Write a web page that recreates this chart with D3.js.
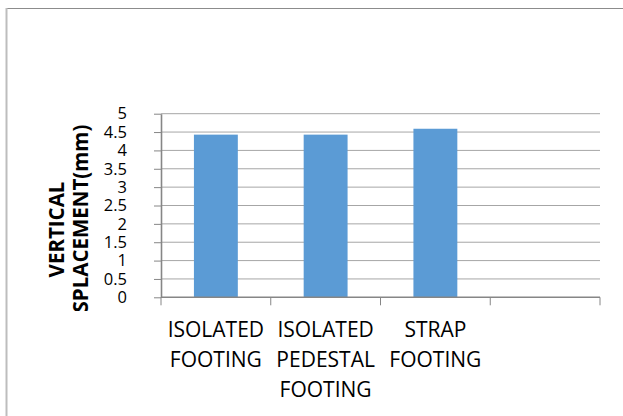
<!DOCTYPE html>
<html>
<head>
<meta charset="utf-8">
<script src="https://cdn.jsdelivr.net/npm/d3@7"></script>
<style>
  body { margin: 0; background: #ffffff; }
  svg { display: block; }
</style>
</head>
<body>
<div id="chart"></div>
<script>
// data
var categories = ["ISOLATED FOOTING", "ISOLATED PEDESTAL FOOTING", "STRAP FOOTING", ""];
var displacement = [4.43, 4.43, 4.59, null];
var yTicks = [0, 0.5, 1, 1.5, 2, 2.5, 3, 3.5, 4, 4.5, 5];
var yTitleLines = ["VERTICAL", "DISPLACEMENT(mm)"];

drawChart("#chart");

function drawChart(sel) {
  var width = 623;
  var height = 416;

  var svg = d3.select(sel)
    .append("svg")
    .attr("width", width)
    .attr("height", height);

  // plot area
  var plot = { left: 161, right: 600, top: 113.7, bottom: 297.3 };

  // outer frame (only top and left edges visible)
  svg.append("line")
    .attr("x1", 6).attr("x2", width)
    .attr("y1", 8.5).attr("y2", 8.5)
    .attr("stroke", "#8c8c8c")
    .attr("stroke-width", 1.2);
  svg.append("line")
    .attr("x1", 6.5).attr("x2", 6.5)
    .attr("y1", 8).attr("y2", height)
    .attr("stroke", "#bdbdbd")
    .attr("stroke-width", 2);

  // scales
  var xScale = d3.scaleBand()
    .domain(categories)
    .range([plot.left, plot.right])
    .paddingInner(0.6)
    .paddingOuter(0.3);

  var yScale = d3.scaleLinear()
    .domain([0, 5])
    .range([plot.bottom, plot.top]);

  // gridlines
  svg.append("g")
    .selectAll("line")
    .data(yTicks.filter(function(d) { return d > 0; }))
    .enter()
    .append("line")
    .attr("x1", plot.left)
    .attr("x2", plot.right)
    .attr("y1", function(d) { return yScale(d); })
    .attr("y2", function(d) { return yScale(d); })
    .attr("stroke", "#a6a6a6")
    .attr("stroke-width", 1);

  // bars
  var rows = categories.map(function(c, i) { return { cat: c, value: displacement[i] }; });
  svg.append("g")
    .selectAll("rect")
    .data(rows.filter(function(d) { return d.value != null; }))
    .enter()
    .append("rect")
    .attr("x", function(d) { return xScale(d.cat); })
    .attr("y", function(d) { return yScale(d.value); })
    .attr("width", xScale.bandwidth())
    .attr("height", function(d) { return yScale(0) - yScale(d.value); })
    .attr("fill", "#5b9bd5");

  // y axis
  var yAxis = d3.axisLeft(yScale)
    .tickValues(yTicks)
    .tickFormat(d3.format("~g"))
    .tickSizeInner(7)
    .tickSizeOuter(0)
    .tickPadding(27);

  var gy = svg.append("g")
    .attr("transform", "translate(" + plot.left + ",0)")
    .call(yAxis);
  gy.select(".domain").attr("stroke", "#868686").attr("stroke-width", 1.6);
  gy.selectAll(".tick line").attr("stroke", "#868686");
  gy.selectAll(".tick text")
    .attr("fill", "#000")
    .style("font-family", "'Open Sans', sans-serif")
    .style("font-size", "16.5px");

  // x axis line + category boundary ticks
  svg.append("line")
    .attr("x1", plot.left).attr("x2", plot.right)
    .attr("y1", plot.bottom).attr("y2", plot.bottom)
    .attr("stroke", "#868686")
    .attr("stroke-width", 1.6);

  var step = xScale.step();
  var bounds = categories.map(function(c) { return xScale(c) - step * 0.3; });
  bounds.push(plot.right);
  svg.append("g")
    .selectAll("line")
    .data(bounds)
    .enter()
    .append("line")
    .attr("x1", function(d) { return d; })
    .attr("x2", function(d) { return d; })
    .attr("y1", plot.bottom)
    .attr("y2", plot.bottom + 8)
    .attr("stroke", "#868686")
    .attr("stroke-width", 1);

  // x labels, one word per line
  var labels = svg.append("g")
    .selectAll("text")
    .data(categories)
    .enter()
    .append("text")
    .attr("text-anchor", "middle")
    .attr("fill", "#000")
    .style("font-family", "'Open Sans', sans-serif")
    .style("font-size", "21px");

  labels.each(function(c) {
    var cx = xScale(c) + xScale.bandwidth() / 2;
    d3.select(this).selectAll("tspan")
      .data(c.split(" ").filter(function(w) { return w.length; }))
      .enter()
      .append("tspan")
      .attr("x", cx)
      .attr("y", function(w, i) { return 337 + i * 30; })
      .text(function(w) { return w; });
  });

  // y title, clipped at the bottom like the original
  svg.append("clipPath")
    .attr("id", "ytclip")
    .append("rect")
    .attr("x", 0).attr("y", 0)
    .attr("width", 140).attr("height", 311);

  var titleCenter = 229.5;
  svg.append("g")
    .attr("clip-path", "url(#ytclip)")
    .selectAll("text")
    .data(yTitleLines)
    .enter()
    .append("text")
    .attr("transform", function(d, i) {
      return "translate(" + (64 + i * 24) + "," + titleCenter + ") rotate(-90)";
    })
    .attr("text-anchor", "middle")
    .attr("fill", "#000")
    .style("font-family", "'Open Sans', sans-serif")
    .style("font-weight", "bold")
    .style("font-size", "20.5px")
    .text(function(d) { return d; });
}
</script>
</body>
</html>
